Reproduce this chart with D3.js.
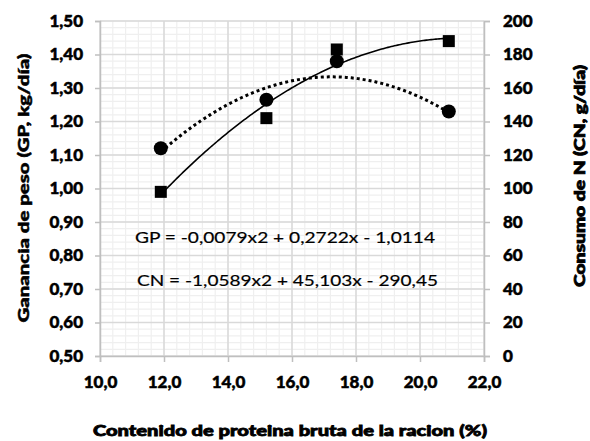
<!DOCTYPE html>
<html>
<head>
<meta charset="utf-8">
<script src="https://cdn.jsdelivr.net/npm/d3@7"></script>
<style>
  html, body { margin: 0; padding: 0; background: #fff; }
  svg { display: block; }
  text { font-family: Lato, "Open Sans", sans-serif; fill: #000; }
</style>
</head>
<body>
<svg id="chart" width="590" height="441"></svg>
<script>
// Crude protein content of the ration (%)
const protein = [11.9, 15.2, 17.4, 20.9];
// Weight gain GP (kg/día), left axis
const gainGP = [1.12, 1.265, 1.38, 1.23];
// Nitrogen intake CN (g/día), right axis
const intakeCN = [98, 142, 183, 188];

// Quadratic trendline coefficients [a, b, c] for a·x² + b·x + c
const gpCoef = [-0.0079, 0.2722, -1.0114];
const cnCoef = [-1.0589, 45.103, -290.45];

const gpEquation = "GP = -0,0079x2 + 0,2722x - 1,0114";
const cnEquation = "CN = -1,0589x2 + 45,103x - 290,45";

const xTicks = [10, 12, 14, 16, 18, 20, 22];
const leftTicks = [0.5, 0.6, 0.7, 0.8, 0.9, 1.0, 1.1, 1.2, 1.3, 1.4, 1.5];
const rightTicks = [0, 20, 40, 60, 80, 100, 120, 140, 160, 180, 200];

const xTitle = "Contenido de proteina bruta de la racion (%)";
const leftTitle = "Ganancia de peso  (GP, kg/día)";
const rightTitle = "Consumo de N (CN, g/día)";

const svg = d3.select("#chart");
const L = 100, R = 484, T = 21, B = 356;

const x = d3.scaleLinear().domain([10, 22]).range([L, R]);
const yL = d3.scaleLinear().domain([0.5, 1.5]).range([B, T]);
const yR = d3.scaleLinear().domain([0, 200]).range([B, T]);

const es = d3.formatLocale({ decimal: ",", thousands: ".", grouping: [3], currency: ["", ""] });
const fLeft = es.format(".2f"), fX = es.format(".1f"), fRight = es.format("d");

// Minor gridlines (5 subdivisions per major step)
const grid = svg.append("g");
grid.selectAll(".vminor").data(d3.range(10, 22.001, 0.4))
  .join("line")
  .attr("x1", d => x(d)).attr("x2", d => x(d))
  .attr("y1", T).attr("y2", B)
  .attr("stroke", "#efefef").attr("stroke-width", 1.2);
grid.selectAll(".hminor").data(d3.range(0.5, 1.5001, 0.02))
  .join("line")
  .attr("x1", L).attr("x2", R)
  .attr("y1", d => yL(d)).attr("y2", d => yL(d))
  .attr("stroke", "#efefef").attr("stroke-width", 1.2);

// Major gridlines
grid.selectAll(".vmajor").data(xTicks)
  .join("line")
  .attr("x1", d => x(d)).attr("x2", d => x(d))
  .attr("y1", T).attr("y2", B)
  .attr("stroke", "#d9d9d9").attr("stroke-width", 1.5);
grid.selectAll(".hmajor").data(leftTicks)
  .join("line")
  .attr("x1", L).attr("x2", R)
  .attr("y1", d => yL(d)).attr("y2", d => yL(d))
  .attr("stroke", "#d9d9d9").attr("stroke-width", 1.5);

// Axes
function styleAxis(g) {
  g.select(".domain").attr("stroke", "#bfbfbf").attr("stroke-width", 1.5);
  g.selectAll(".tick line").attr("stroke", "#bfbfbf").attr("stroke-width", 1.5);
  g.selectAll(".tick text")
    .style("font-family", "Lato, sans-serif")
    .style("font-weight", "900")
    .style("font-size", "17px")
    .attr("fill", "#000")
    .attr("stroke", "#000")
    .attr("stroke-width", 0.5);
}

svg.append("g").attr("transform", `translate(0,${B})`)
  .call(d3.axisBottom(x).tickValues(xTicks).tickFormat(fX).tickSizeOuter(0).tickSize(6).tickPadding(14))
  .call(styleAxis);

svg.append("g").attr("transform", `translate(${L},0)`)
  .call(d3.axisLeft(yL).tickValues(leftTicks).tickFormat(fLeft).tickSizeOuter(0).tickSize(5).tickPadding(12))
  .call(styleAxis);

svg.append("g").attr("transform", `translate(${R},0)`)
  .call(d3.axisRight(yR).tickValues(rightTicks).tickFormat(fRight).tickSizeOuter(0).tickSize(6).tickPadding(13))
  .call(styleAxis);

// Trendlines from the quadratic coefficients
const poly = (c, v) => c[0] * v * v + c[1] * v + c[2];
const xs = d3.range(protein[0], protein[protein.length - 1] + 0.0001, 0.05);

svg.append("path")
  .datum(xs)
  .attr("fill", "none")
  .attr("stroke", "#000")
  .attr("stroke-width", 1.6)
  .attr("d", d3.line().x(d => x(d)).y(d => yR(poly(cnCoef, d))));

svg.append("path")
  .datum(xs)
  .attr("fill", "none")
  .attr("stroke", "#000")
  .attr("stroke-width", 3)
  .attr("stroke-dasharray", "3,3")
  .attr("d", d3.line().x(d => x(d)).y(d => yL(poly(gpCoef, d))));

// Markers: squares for CN, circles for GP
svg.append("g").selectAll("rect")
  .data(protein.map((p, i) => [p, intakeCN[i]]))
  .join("rect")
  .attr("x", d => x(d[0]) - 6).attr("y", d => yR(d[1]) - 6)
  .attr("width", 12).attr("height", 12)
  .attr("fill", "#000");

svg.append("g").selectAll("circle")
  .data(protein.map((p, i) => [p, gainGP[i]]))
  .join("circle")
  .attr("cx", d => x(d[0])).attr("cy", d => yL(d[1]))
  .attr("r", 7)
  .attr("fill", "#000");

// Trendline equations
svg.append("text")
  .attr("x", 135).attr("y", 243)
  .attr("textLength", 300).attr("lengthAdjust", "spacingAndGlyphs")
  .style("font-size", "16px")
  .attr("stroke", "#000").attr("stroke-width", 0.2)
  .text(gpEquation);
svg.append("text")
  .attr("x", 137).attr("y", 286)
  .attr("textLength", 301).attr("lengthAdjust", "spacingAndGlyphs")
  .style("font-size", "16px")
  .attr("stroke", "#000").attr("stroke-width", 0.2)
  .text(cnEquation);

// Axis titles
svg.append("text")
  .attr("x", 290).attr("y", 436)
  .attr("text-anchor", "middle")
  .attr("textLength", 394).attr("lengthAdjust", "spacingAndGlyphs")
  .style("font-size", "15px").style("font-weight", "900")
  .attr("stroke", "#000").attr("stroke-width", 0.8)
  .text(xTitle);

svg.append("text")
  .attr("transform", "translate(29,188) rotate(-90)")
  .attr("text-anchor", "middle")
  .attr("textLength", 269).attr("lengthAdjust", "spacingAndGlyphs")
  .style("font-size", "15px").style("font-weight", "900")
  .attr("stroke", "#000").attr("stroke-width", 0.5)
  .text(leftTitle);

svg.append("text")
  .attr("transform", "translate(585,176) rotate(-90)")
  .attr("text-anchor", "middle")
  .attr("textLength", 222).attr("lengthAdjust", "spacingAndGlyphs")
  .style("font-size", "15px").style("font-weight", "900")
  .attr("stroke", "#000").attr("stroke-width", 0.8)
  .text(rightTitle);
</script>
</body>
</html>
